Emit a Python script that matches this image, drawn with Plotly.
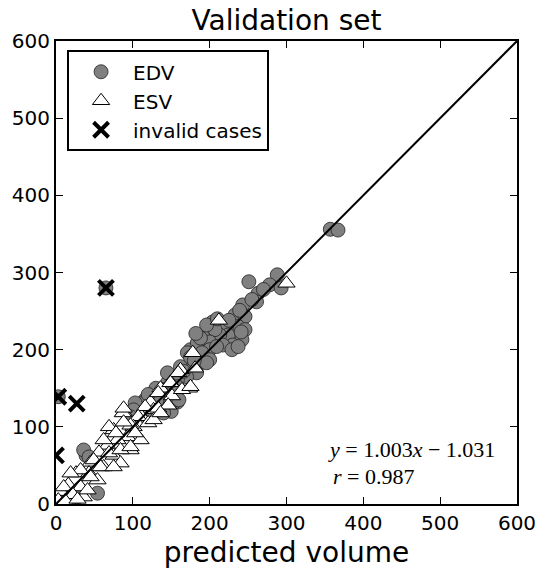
import plotly.graph_objects as go

# EDV: predicted (x) vs actual (y)
edv_pred = [357, 367, 251, 288, 278, 263, 261, 293, 243, 239, 233, 246, 237, 246, 242,
            204, 222, 224, 230, 213, 207, 191, 188, 200, 217, 229, 237, 175, 184, 171,
            200, 190, 209, 239, 241, 188, 200, 188, 175, 162, 183, 170, 158, 145, 140,
            153, 158, 127, 116, 106, 136, 145, 175, 196, 145, 158, 140, 132, 153, 114,
            97, 136, 149, 93, 103, 99, 119, 101, 97, 54, 39, 28, 36, 43, 23,
            65, 3, 196, 182, 210, 150, 160, 140, 270, 255, 225, 166, 180, 130, 120]
edv_true = [356, 355, 288, 297, 284, 273, 262, 280, 258, 249, 245, 243, 230, 226, 213,
            236, 230, 219, 206, 219, 226, 217, 206, 210, 206, 200, 204, 200, 209, 196,
            200, 196, 204, 251, 223, 215, 187, 183, 178, 178, 170, 165, 161, 157, 148,
            145, 132, 139, 135, 128, 128, 128, 190, 183, 170, 152, 145, 135, 131, 131,
            119, 148, 131, 118, 131, 109, 111, 122, 113, 14, 63, 9, 70, 61, 14,
            280, 139, 232, 221, 240, 120, 135, 118, 278, 265, 238, 172, 186, 150, 142]

# ESV: predicted (x) vs actual (y)
esv_pred = [300, 212, 178, 162, 149, 136, 173, 151, 123, 88, 110, 127, 181, 159, 149,
            133, 164, 116, 133, 146, 87, 107, 120, 101, 75, 93, 80, 110, 67, 56,
            75, 97, 45, 62, 84, 26, 43, 54, 16, 32, 6, 19, 36, 3, 97,
            88, 127, 136, 88, 175, 69, 78, 62, 69, 84, 97, 103, 49, 32, 19,
            45, 58, 75, 10, 41, 22, 12, 28]
esv_true = [286, 238, 196, 174, 158, 150, 150, 140, 132, 119, 115, 122, 176, 170, 157,
            144, 148, 126, 124, 128, 118, 113, 105, 100, 96, 87, 83, 83, 76, 67,
            63, 70, 54, 48, 53, 40, 40, 31, 25, 22, 16, 9, 9, 5, 102,
            106, 109, 118, 124, 152, 100, 92, 83, 66, 70, 74, 92, 57, 44, 40,
            35, 48, 48, 22, 18, 12, 4, 6]

# invalid cases
inv_pred = [65, 3, 27, 0]
inv_true = [280, 139, 130, 63]

# identity line
line_x = [0, 600]
line_y = [0, 600]

ticks = [0, 100, 200, 300, 400, 500, 600]

fig = go.Figure()
fig.add_trace(go.Scatter(
    x=edv_pred, y=edv_true, mode="markers", name="EDV", legendgroup="a",
    marker=dict(symbol="circle", size=14, color="#808080",
                line=dict(color="#222222", width=0.8))))
fig.add_trace(go.Scatter(
    x=esv_pred, y=esv_true, mode="markers", name="ESV", legendgroup="b",
    marker=dict(symbol="triangle-up", size=15, color="white",
                line=dict(color="black", width=1))))
fig.add_trace(go.Scatter(
    x=inv_pred, y=inv_true, mode="markers", name="invalid cases", legendgroup="c",
    marker=dict(symbol="x-thin", size=15, color="black",
                line=dict(color="black", width=4))))
fig.add_trace(go.Scatter(
    x=line_x, y=line_y, mode="lines", showlegend=False,
    line=dict(color="black", width=2)))

axis_common = dict(
    range=[0, 600], tickvals=ticks, ticks="inside", ticklen=7, tickwidth=1,
    tickcolor="black", showline=True, linecolor="black", linewidth=2,
    mirror="allticks", showgrid=False, zeroline=False,
    tickfont=dict(family="DejaVu Sans", size=20, color="black"),
)

fig.update_xaxes(**axis_common,
                 title=dict(text="predicted volume",
                            font=dict(family="DejaVu Sans", size=28, color="black"),
                            standoff=8))
fig.update_yaxes(**axis_common)

fig.add_annotation(x=352, y=71, xref="x", yref="y", xanchor="left", yanchor="middle",
                   text="<i>y</i> = 1.003<i>x</i> − 1.031", showarrow=False,
                   font=dict(family="Liberation Serif", size=22, color="black"))
fig.add_annotation(x=358, y=36, xref="x", yref="y", xanchor="left", yanchor="middle",
                   text="<i>r</i> = 0.987", showarrow=False,
                   font=dict(family="Liberation Serif", size=22, color="black"))

fig.update_layout(
    width=548, height=580, autosize=False,
    margin=dict(l=55, r=29, t=41, b=76),
    plot_bgcolor="white", paper_bgcolor="white",
    title=dict(text="Validation set", x=0.5, xref="paper", xanchor="center",
               y=1 - 20 / 580, yref="container", yanchor="middle",
               font=dict(family="DejaVu Sans", size=28, color="black")),
    legend=dict(x=0.024, y=0.98, xanchor="left", yanchor="top",
                bordercolor="black", borderwidth=2, bgcolor="white",
                font=dict(family="DejaVu Sans", size=20, color="black"),
                tracegroupgap=0, itemwidth=54),
    font=dict(family="DejaVu Sans", color="black"),
)

fig.write_html("out.html")
